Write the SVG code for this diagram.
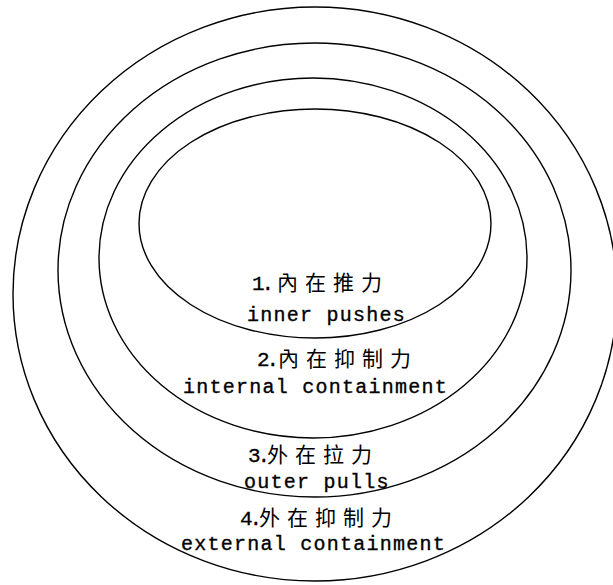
<svg xmlns="http://www.w3.org/2000/svg" width="613" height="585" viewBox="0 0 613 585">
  <style>
    .ring { fill: none; stroke: #000; stroke-width: 1.4; }
    .num { font-family: "Liberation Mono", "DejaVu Sans Mono", monospace; font-size: 21px; fill: #000; stroke: #000; stroke-width: 0.3; letter-spacing: -3px; }
    .cjk { font-family: "Noto Sans CJK TC", "Noto Sans CJK SC", sans-serif; font-size: 21px; fill: #000; letter-spacing: 7px; }
    .en { font-family: "Liberation Mono", "DejaVu Sans Mono", monospace; font-size: 20px; fill: #000; stroke: #000; stroke-width: 0.35; letter-spacing: 1.25px; }
  </style>
  <rect width="613" height="585" fill="#fff"/>
  <g id="ring4">
    <ellipse class="ring" cx="315" cy="294" rx="302" ry="287"/>
    <text y="525"><tspan class="num" x="240">4.</tspan><tspan class="cjk" x="259">外在抑制力</tspan></text>
    <text class="en" x="181" y="550">external containment</text>
  </g>
  <g id="ring3">
    <ellipse class="ring" cx="314.5" cy="270" rx="256.5" ry="227"/>
    <text y="462"><tspan class="num" x="248">3.</tspan><tspan class="cjk" x="267">外在拉力</tspan></text>
    <text class="en" x="244" y="488">outer pulls</text>
  </g>
  <g id="ring2">
    <ellipse class="ring" cx="313" cy="258" rx="214" ry="180"/>
    <text y="366"><tspan class="num" x="257">2.</tspan><tspan class="cjk" x="278">內在抑制力</tspan></text>
    <text class="en" x="183" y="393">internal containment</text>
  </g>
  <g id="ring1">
    <ellipse class="ring" cx="315" cy="223.5" rx="176" ry="114.5"/>
    <text y="290"><tspan class="num" x="252">1.</tspan><tspan class="cjk" x="277">內在推力</tspan></text>
    <text class="en" x="247" y="321">inner pushes</text>
  </g>
</svg>
